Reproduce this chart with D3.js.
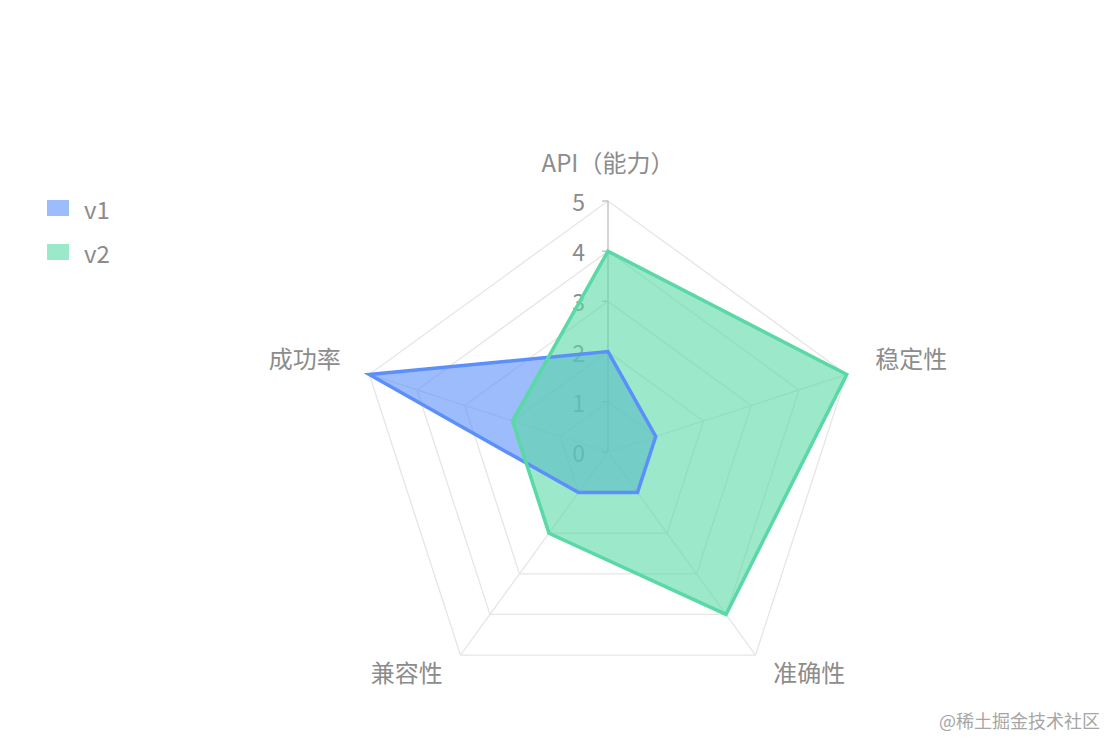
<!DOCTYPE html>
<html>
<head>
<meta charset="utf-8">
<script src="https://cdn.jsdelivr.net/npm/d3@7"></script>
<style>
html,body{margin:0;padding:0;background:#fff;}
svg{display:block;font-family:"Noto Sans CJK SC","Noto Sans",sans-serif;}
</style>
</head>
<body>
<svg id="chart" width="1120" height="752"></svg>
<script>
const indicators = ["API（能力）", "稳定性", "准确性", "兼容性", "成功率"];
const seriesNames = ["v1", "v2"];
const v1 = [2, 1, 1, 1, 5];
const v2 = [4, 5, 4, 2, 2];
const tickValues = [0, 1, 2, 3, 4, 5];
const colors = ["#5B8FF9", "#5AD8A6"];

const svg = d3.select("#chart");
const cx = 608, cy = 452, R = 251;
const r = d3.scaleLinear().domain([0, 5]).range([0, R]);
const n = indicators.length;
const ang = d3.scaleLinear().domain([0, n]).range([0, 2 * Math.PI]);
const pt = (i, v) => {
  const a = ang(i) - Math.PI / 2;
  return [cx + r(v) * Math.cos(a), cy + r(v) * Math.sin(a)];
};

const g = svg.append("g");

// grid rings
tickValues.filter(t => t > 0).forEach(t => {
  g.append("path")
    .attr("d", d3.line()(d3.range(n).map(i => pt(i, t))) + "Z")
    .attr("fill", "none").attr("stroke", "#e6e6e6").attr("stroke-width", 1.3);
});
// radial lines
d3.range(n).forEach(i => {
  const p = pt(i, 5);
  g.append("line").attr("x1", cx).attr("y1", cy).attr("x2", p[0]).attr("y2", p[1])
    .attr("stroke", i === 0 ? "#c8c8c8" : "#e6e6e6").attr("stroke-width", i === 0 ? 1.6 : 1.3);
});
// ticks on first axis
tickValues.forEach(t => {
  const y = cy - r(t);
  g.append("line").attr("x1", cx - 6).attr("x2", cx).attr("y1", y).attr("y2", y)
    .attr("stroke", "#c8c8c8").attr("stroke-width", 1.6);
  g.append("text").attr("x", cx - 23).attr("y", y).attr("text-anchor", "end")
    .attr("dominant-baseline", "central").attr("font-size", 23).attr("fill", "#8c8c8c")
    .text(t);
});

// axis labels
const off = 30;
indicators.forEach((name, i) => {
  const a = ang(i) - Math.PI / 2;
  const c = Math.cos(a);
  const x = cx + (R + off) * c, y = cy + (R + off) * Math.sin(a) - (Math.abs(c) < 0.1 ? 10 : 8);
  g.append("text").attr("x", x).attr("y", y)
    .attr("text-anchor", Math.abs(c) < 0.1 ? "middle" : (c > 0 ? "start" : "end"))
    .attr("dominant-baseline", "central").attr("font-size", 24).attr("fill", "#8c8c8c")
    .text(name);
});

// series
const data = [v1, v2];
const radial = d3.lineRadial().angle((d, i) => ang(i)).radius(d => r(d)).curve(d3.curveLinearClosed);
const sg = svg.append("g").attr("transform", `translate(${cx},${cy})`);
data.forEach((vals, k) => {
  sg.append("path").attr("d", radial(vals)).attr("fill", colors[k]).attr("fill-opacity", 0.6).attr("stroke", "none");
});
data.forEach((vals, k) => {
  sg.append("path").attr("d", radial(vals)).attr("fill", "none").attr("stroke", colors[k])
    .attr("stroke-width", 3.5).attr("stroke-linejoin", "miter");
});

// legend
seriesNames.forEach((s, k) => {
  const y = 208 + k * 44;
  svg.append("rect").attr("x", 47).attr("y", y - 8).attr("width", 22).attr("height", 16)
    .attr("fill", colors[k]).attr("fill-opacity", 0.6);
  svg.append("text").attr("x", 84).attr("y", y).attr("dominant-baseline", "central")
    .attr("font-size", 24).attr("fill", "#8c8c8c").text(s);
});

// watermark
svg.append("text").attr("x", 1100).attr("y", 720).attr("text-anchor", "end")
  .attr("dominant-baseline", "central").attr("font-size", 18).attr("fill", "#a6a6a6")
  .text("@稀土掘金技术社区");
</script>
</body>
</html>
